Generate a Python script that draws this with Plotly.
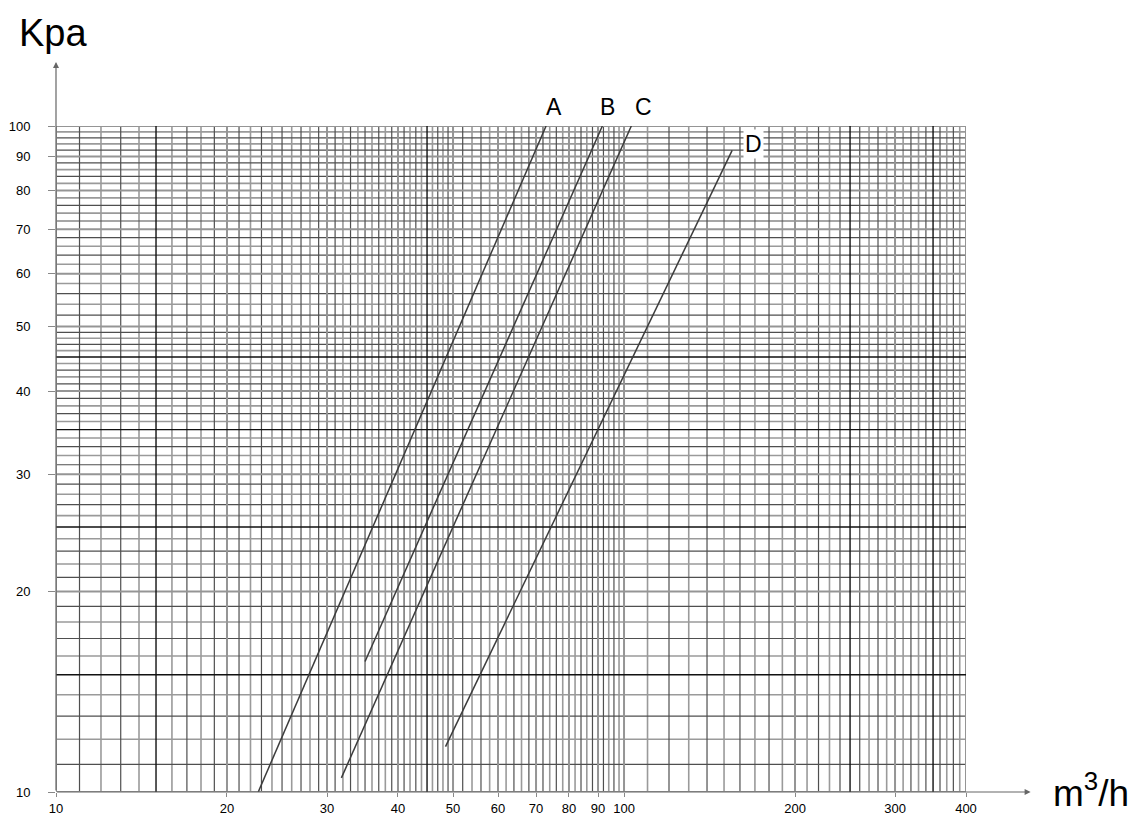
import math
import plotly.graph_objects as go

# flow (m3/h) vs pressure drop (kPa)
curve_names = ["A", "B", "C", "D"]
curve_flow = [[22.7, 72.9], [35.0, 91.6], [31.8, 103.0], [48.5, 155.0]]
curve_kpa = [[10.0, 100.0], [15.7, 100.0], [10.5, 100.0], [11.7, 91.9]]

x_ticks = [10, 20, 30, 40, 50, 60, 70, 80, 90, 100, 200, 300, 400]
y_ticks = [10, 20, 30, 40, 50, 60, 70, 80, 90, 100]

# grid positions of the chart paper
x_grid = list(range(10, 50)) + list(range(50, 100, 2)) + list(range(100, 401, 10))
y_grid = list(range(10, 50)) + list(range(50, 101, 2))
x_bold = [15, 45, 250, 350]
y_bold = [15, 25, 35, 45]


def vlines(vals):
    xs, ys = [], []
    for v in vals:
        xs += [v, v, None]
        ys += [10, 100, None]
    return xs, ys


def hlines(vals):
    xs, ys = [], []
    for v in vals:
        xs += [10, 400, None]
        ys += [v, v, None]
    return xs, ys


fig = go.Figure()

# paper grid: alternating dark / light lines, labelled lines wider, a few black
dark_x = [v for i, v in enumerate(x_grid) if i % 2 == 1 and v not in x_ticks and v not in x_bold]
light_x = [v for i, v in enumerate(x_grid) if i % 2 == 0 and v not in x_ticks and v not in x_bold]
dark_y = [v for i, v in enumerate(y_grid) if i % 2 == 1 and v not in y_ticks and v not in y_bold]
light_y = [v for i, v in enumerate(y_grid) if i % 2 == 0 and v not in y_ticks and v not in y_bold]

grid_sets = [
    (vlines(light_x), "#9a9a9a", 1.6),
    (hlines(light_y), "#9a9a9a", 1.6),
    (vlines(dark_x), "#4f4f4f", 1.2),
    (hlines(dark_y), "#4f4f4f", 1.2),
    (vlines(x_ticks), "#959595", 2),
    (hlines(y_ticks), "#959595", 2),
    (vlines(x_bold), "#111111", 1.4),
    (hlines(y_bold), "#111111", 1.4),
]
for (xs, ys), col, w in grid_sets:
    fig.add_trace(go.Scatter(x=xs, y=ys, mode="lines", line=dict(color=col, width=w),
                             hoverinfo="skip", showlegend=False))

# the four curves
for name, fx, fy in zip(curve_names, curve_flow, curve_kpa):
    fig.add_trace(go.Scatter(x=fx, y=fy, mode="lines", name=name,
                             line=dict(color="#3c3c3c", width=1.5), showlegend=False))

# curve letters next to the upper end of each line
label_shift = {"A": (8, 19), "B": (5, 19), "C": (12, 19), "D": (21, 6)}
for name, fx, fy in zip(curve_names, curve_flow, curve_kpa):
    dx, dy = label_shift[name]
    fig.add_annotation(x=math.log10(fx[-1]), y=math.log10(fy[-1]), text=name, showarrow=False,
                       xshift=dx, yshift=dy, font=dict(size=23, color="black"),
                       bgcolor="white" if name == "D" else None)

# axis arrows
fig.add_annotation(xref="paper", yref="paper", x=0, y=1.096, ax=0, ay=730,
                   showarrow=True, arrowhead=2, arrowsize=1, arrowwidth=1.2,
                   arrowcolor="#666666", text="")
fig.add_annotation(xref="paper", yref="paper", x=1.071, y=0, ax=-975, ay=0,
                   showarrow=True, arrowhead=2, arrowsize=1, arrowwidth=1.2,
                   arrowcolor="#666666", text="")

# axis titles
fig.add_annotation(xref="paper", yref="paper", x=-0.042, y=1.172, xanchor="left", yanchor="top",
                   text="Kpa", showarrow=False, borderpad=0, font=dict(size=38, color="black"))
fig.add_annotation(xref="paper", yref="paper", x=1.094, y=0.003, xanchor="left", yanchor="middle",
                   text="m<sup>3</sup>/h", showarrow=False, borderpad=0,
                   font=dict(size=37, color="black"))

fig.update_layout(
    width=1132, height=807,
    margin=dict(l=48, r=174, t=118, b=23, autoexpand=False),
    paper_bgcolor="white", plot_bgcolor="white",
    font=dict(family="Liberation Sans, Arial, sans-serif", size=13, color="black"),
    xaxis=dict(type="log", range=[1, math.log10(400)], tickvals=x_ticks,
               ticktext=[str(v) for v in x_ticks], showgrid=False, zeroline=False,
               showline=False, ticks="outside", ticklen=4, tickcolor="#888888",
               automargin=False),
    yaxis=dict(type="log", range=[1, 2], tickvals=y_ticks,
               ticktext=[str(v) for v in y_ticks], showgrid=False, zeroline=False,
               showline=False, ticks="outside", ticklen=7, tickcolor="#888888",
               ticklabelstandoff=15, automargin=False),
)

fig.write_html("out.html")
